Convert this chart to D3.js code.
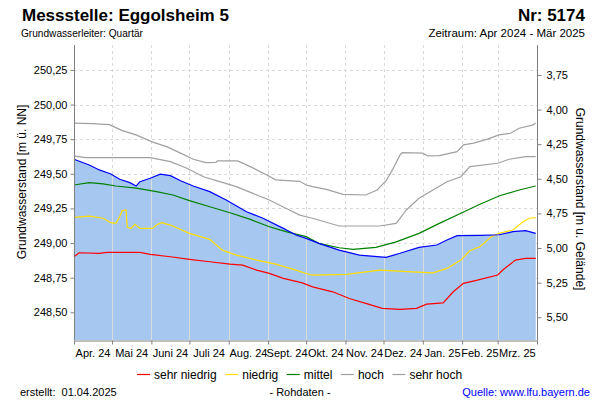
<!DOCTYPE html>
<html><head><meta charset="utf-8">
<script src="https://cdn.jsdelivr.net/npm/d3@7"></script>
<style>
body{margin:0;background:#fff}
svg{display:block}
text{font-family:"Liberation Sans",Arial,sans-serif;fill:#000}
</style>
</head><body>
<svg id="chart" width="600" height="400"></svg>
<script>
// ---- data ----
const monthLabels = ["Apr. 24","Mai 24","Juni 24","Juli 24","Aug. 24","Sept. 24","Okt. 24","Nov. 24","Dez. 24","Jan. 25","Feb. 25","Mrz. 25"];
const leftTicks = [248.50,248.75,249.00,249.25,249.50,249.75,250.00,250.25];
const rightTicks = [3.75,4.00,4.25,4.50,4.75,5.00,5.25,5.50];
const groundLevel = 253.964;

const messwert = [
 ["2024-04-01",249.605],["2024-04-13",249.564],["2024-04-21",249.528],["2024-04-30",249.499],
 ["2024-05-07",249.461],["2024-05-15",249.436],["2024-05-20",249.412],["2024-05-23",249.443],
 ["2024-05-31",249.468],["2024-06-08",249.497],["2024-06-16",249.487],["2024-06-24",249.450],
 ["2024-07-04",249.412],["2024-07-17",249.371],["2024-07-30",249.311],["2024-08-15",249.226],
 ["2024-08-28",249.179],["2024-09-13",249.106],["2024-09-23",249.058],["2024-10-01",249.034],
 ["2024-10-11",248.998],["2024-10-27",248.949],["2024-11-12",248.913],["2024-12-03",248.897],
 ["2024-12-14",248.926],["2024-12-29",248.969],["2025-01-12",248.986],["2025-01-20",249.022],
 ["2025-01-28",249.053],["2025-02-15",249.056],["2025-03-02",249.060],["2025-03-13",249.082],
 ["2025-03-23",249.089],["2025-03-31",249.070]
];
const sehrHoch = [
 ["2024-04-01",249.866],["2024-04-15",249.862],["2024-04-29",249.855],["2024-05-09",249.812],
 ["2024-05-20",249.781],["2024-06-01",249.732],["2024-06-13",249.696],["2024-06-24",249.649],
 ["2024-07-04",249.605],["2024-07-14",249.581],["2024-07-22",249.583],["2024-07-23",249.593],
 ["2024-08-08",249.593],["2024-08-18",249.552],["2024-08-31",249.492],["2024-09-07",249.456],
 ["2024-09-26",249.446],["2024-10-01",249.419],["2024-10-06",249.407],["2024-10-17",249.388],
 ["2024-10-30",249.352],["2024-11-17",249.347],["2024-11-26",249.383],["2024-12-03",249.450],
 ["2024-12-08",249.528],["2024-12-14",249.636],["2024-12-16",249.653],["2025-01-01",249.649],
 ["2025-01-05",249.629],["2025-01-14",249.631],["2025-01-28",249.660],["2025-02-02",249.709],
 ["2025-02-10",249.721],["2025-02-21",249.750],["2025-03-02",249.781],["2025-03-11",249.793],
 ["2025-03-18",249.829],["2025-03-29",249.853],["2025-03-31",249.866]
];
const hoch = [
 ["2024-04-01",249.629],["2024-04-10",249.617],["2024-05-31",249.617],["2024-06-16",249.588],
 ["2024-06-29",249.540],["2024-07-12",249.479],["2024-07-25",249.443],["2024-08-07",249.407],
 ["2024-08-20",249.359],["2024-09-02",249.311],["2024-09-15",249.251],["2024-09-26",249.202],
 ["2024-10-01",249.190],["2024-10-06",249.179],["2024-10-27",249.123],["2024-11-28",249.123],
 ["2024-12-11",249.142],["2024-12-19",249.239],["2024-12-29",249.323],["2025-01-09",249.383],
 ["2025-01-20",249.443],["2025-01-31",249.479],["2025-02-07",249.552],["2025-03-01",249.576],
 ["2025-03-10",249.605],["2025-03-23",249.624],["2025-03-31",249.624]
];
const mittel = [
 ["2024-04-01",249.419],["2024-04-13",249.436],["2024-04-24",249.427],["2024-05-04",249.412],
 ["2024-05-20",249.396],["2024-06-05",249.371],["2024-06-18",249.347],["2024-07-01",249.306],
 ["2024-07-17",249.262],["2024-08-02",249.219],["2024-08-18",249.171],["2024-09-02",249.118],
 ["2024-09-15",249.082],["2024-10-01",249.046],["2024-10-11",248.998],["2024-10-27",248.966],
 ["2024-11-07",248.954],["2024-11-25",248.969],["2024-12-11",249.009],["2024-12-29",249.070],
 ["2025-01-14",249.142],["2025-01-31",249.215],["2025-02-15",249.280],["2025-03-02",249.340],
 ["2025-03-18",249.383],["2025-03-31",249.412]
];
const niedrig = [
 ["2024-04-01",249.186],["2024-04-13",249.195],["2024-04-24",249.179],["2024-04-30",249.147],
 ["2024-05-04",249.142],["2024-05-07",249.190],["2024-05-09",249.234],["2024-05-12",249.239],
 ["2024-05-13",249.114],["2024-05-16",249.106],["2024-05-19",249.135],["2024-05-23",249.106],
 ["2024-06-02",249.106],["2024-06-05",249.130],["2024-06-09",249.147],["2024-06-16",249.130],
 ["2024-07-01",249.070],["2024-07-17",249.027],["2024-07-27",248.949],["2024-08-07",248.913],
 ["2024-08-23",248.877],["2024-09-07",248.848],["2024-09-23",248.805],["2024-10-01",248.780],
 ["2024-10-06",248.769],["2024-11-02",248.774],["2024-11-28",248.805],["2024-12-24",248.792],
 ["2025-01-09",248.785],["2025-01-20",248.817],["2025-01-31",248.877],["2025-02-07",248.944],
 ["2025-02-15",248.973],["2025-02-24",249.046],["2025-03-02",249.070],["2025-03-13",249.094],
 ["2025-03-21",249.154],["2025-03-26",249.179],["2025-03-31",249.183]
];
const sehrNiedrig = [
 ["2024-04-01",248.901],["2024-04-05",248.930],["2024-04-21",248.926],["2024-04-27",248.933],
 ["2024-05-23",248.933],["2024-05-31",248.918],["2024-06-16",248.901],["2024-07-01",248.882],
 ["2024-07-17",248.865],["2024-08-02",248.848],["2024-08-12",248.841],["2024-08-23",248.805],
 ["2024-09-02",248.781],["2024-09-13",248.745],["2024-09-28",248.712],["2024-10-06",248.684],
 ["2024-10-22",248.648],["2024-11-04",248.600],["2024-11-17",248.564],["2024-11-30",248.528],
 ["2024-12-14",248.521],["2024-12-27",248.528],["2025-01-04",248.559],["2025-01-17",248.568],
 ["2025-01-25",248.648],["2025-02-02",248.709],["2025-02-13",248.732],["2025-03-01",248.769],
 ["2025-03-05",248.805],["2025-03-15",248.877],["2025-03-23",248.889],["2025-03-31",248.889]
];
const legendNames = ["sehr niedrig","niedrig","mittel","hoch","sehr hoch"];
const legendColors = ["#ff0000","#ffdd00","#008000","#a0a0a0","#a0a0a0"];

// ---- layout ----
const L = 74, R = 537, T = 45, B = 340;
const svg = d3.select("#chart");
const parse = d3.timeParse("%Y-%m-%d");
const x = d3.scaleTime().domain([parse("2024-04-01"), parse("2025-04-01")]).range([L, R]);
const y = d3.scaleLinear().domain([248.30, 250.43]).range([B, T]);
const yr = d3.scaleLinear().domain([groundLevel - 248.30, groundLevel - 250.43]).range([B, T]);
const comma = v => d3.format(".2f")(v).replace(".", ",");
const months = d3.timeMonth.range(parse("2024-04-01"), parse("2025-04-02"));

// gridlines (dashed)
const grid = svg.append("g");
grid.selectAll("line.h").data(leftTicks).join("line")
  .attr("x1", L).attr("x2", R).attr("y1", d => Math.round(y(d)) + 0.5).attr("y2", d => Math.round(y(d)) + 0.5)
  .attr("stroke", "#d9d9d9").attr("stroke-dasharray", "3,3");
grid.selectAll("line.v").data(months.slice(1, -1)).join("line")
  .attr("x1", d => Math.round(x(d)) + 0.5).attr("x2", d => Math.round(x(d)) + 0.5).attr("y1", T).attr("y2", B)
  .attr("stroke", "#d9d9d9").attr("stroke-dasharray", "3,3");

// area
const pts = messwert.map(d => [parse(d[0]), d[1]]);
const area = d3.area().x(d => x(d[0])).y0(B).y1(d => y(d[1]));
svg.append("clipPath").attr("id", "areaClip").append("path").attr("d", area(pts));
svg.append("path").attr("d", area(pts)).attr("fill", "#a6c8f0");
svg.append("g").attr("clip-path", "url(#areaClip)")
  .selectAll("line").data(months.slice(1, -1)).join("line")
  .attr("x1", d => Math.round(x(d)) + 0.5).attr("x2", d => Math.round(x(d)) + 0.5).attr("y1", T).attr("y2", B)
  .attr("stroke", "#dcdcdc").attr("stroke-width", 1);

// reference lines
const line = d3.line().x(d => x(parse(d[0]))).y(d => y(d[1]));
const series = [[sehrHoch, "#a0a0a0"], [hoch, "#a0a0a0"], [mittel, "#008000"], [niedrig, "#ffdd00"], [sehrNiedrig, "#ff0000"], [messwert, "#0000ff"]];
series.forEach(([data, col]) => {
  svg.append("path").attr("d", line(data)).attr("fill", "none").attr("stroke", col).attr("stroke-width", 1.2);
});

// axes
const axisCol = "#808080";
const gl = svg.append("g").attr("transform", `translate(${L + 0.5},0)`)
  .call(d3.axisLeft(y).tickValues(leftTicks).tickFormat(comma).tickSize(4).tickSizeOuter(0));
const gr = svg.append("g").attr("transform", `translate(${R + 0.5},0)`)
  .call(d3.axisRight(yr).tickValues(rightTicks).tickFormat(comma).tickSize(4).tickSizeOuter(0));
const gb = svg.append("g").attr("transform", `translate(0,${B + 0.5})`)
  .call(d3.axisBottom(x).tickValues(months).tickFormat("").tickSize(4).tickSizeOuter(0));
[gl, gr, gb].forEach(g => {
  g.select(".domain").attr("stroke", axisCol);
  g.selectAll(".tick line").attr("stroke", axisCol);
  g.selectAll("text").attr("font-size", 11).attr("font-family", "Liberation Sans, Arial, sans-serif").attr("fill", "#000");
});
gl.select(".domain").attr("d", `M0,${T}V${B}`);
gr.select(".domain").attr("d", `M0,${T}V${B}`);
gl.selectAll(".tick text").attr("x", -7);
gr.selectAll(".tick text").attr("x", 9);

// month labels centred in month
svg.append("g").selectAll("text").data(months.slice(0, 12)).join("text")
  .attr("x", (d, i) => (x(d) + x(months[i + 1])) / 2).attr("y", 357)
  .attr("text-anchor", "middle").attr("font-size", 11)
  .text((d, i) => monthLabels[i]);

// axis titles
svg.append("text").attr("transform", `translate(26,182) rotate(-90)`)
  .attr("text-anchor", "middle").attr("font-size", 12).text("Grundwasserstand [m ü. NN]");
svg.append("text").attr("transform", `translate(576,199) rotate(90)`)
  .attr("text-anchor", "middle").attr("font-size", 12).text("Grundwasserstand [m u. Gelände]");

// titles
svg.append("text").attr("x", 22).attr("y", 21).attr("font-size", 17).attr("font-weight", "bold").text("Messstelle: Eggolsheim 5");
svg.append("text").attr("x", 585).attr("y", 21).attr("font-size", 17).attr("font-weight", "bold").attr("text-anchor", "end").text("Nr: 5174");
svg.append("text").attr("x", 21).attr("y", 37).attr("font-size", 11.5).attr("textLength", 122).attr("lengthAdjust", "spacingAndGlyphs").text("Grundwasserleiter: Quartär");
svg.append("text").attr("x", 585).attr("y", 37).attr("font-size", 11.5).attr("text-anchor", "end").text("Zeitraum: Apr 2024 - Mär 2025");

// legend (flow layout)
const lg = svg.append("g");
let lx = 137;
legendNames.forEach((n, i) => {
  lg.append("line").attr("x1", lx).attr("x2", lx + 13).attr("y1", 374.5).attr("y2", 374.5)
    .attr("stroke", legendColors[i]).attr("stroke-width", 1.2);
  const t = lg.append("text").attr("x", lx + 17).attr("y", 379).attr("font-size", 12).text(n);
  lx += 17 + t.node().getComputedTextLength() + 8.5;
});

// footer
svg.append("text").attr("x", 20).attr("y", 396).attr("font-size", 11).attr("xml:space", "preserve").text("erstellt:  01.04.2025");
svg.append("text").attr("x", 300).attr("y", 396).attr("font-size", 11).attr("text-anchor", "middle").text("- Rohdaten -");
svg.append("text").attr("x", 590).attr("y", 396).attr("font-size", 11).attr("text-anchor", "end").style("fill", "#0000ff").text("Quelle: www.lfu.bayern.de");
</script>
</body></html>
